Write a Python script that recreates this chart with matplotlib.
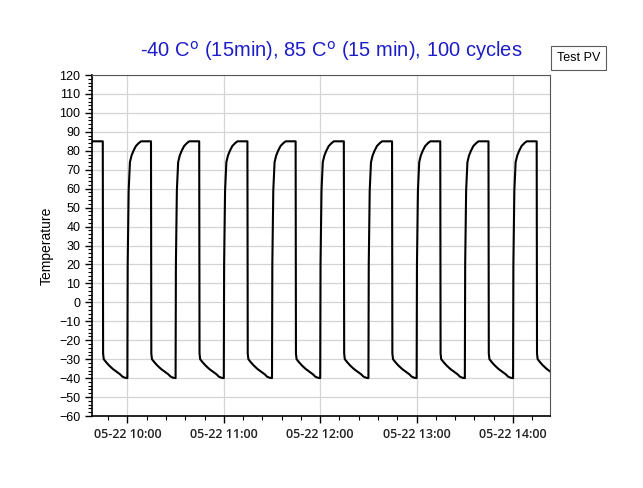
import matplotlib
matplotlib.use('Agg')
import matplotlib.pyplot as plt
import matplotlib.dates as mdates
from matplotlib.ticker import MultipleLocator
import numpy as np
import pandas as pd

# one thermal cycle: minutes after the rise, temperature
cycle_min = [0, 0.2, 0.8, 1.6, 2.6, 3.8, 5.3, 7.0, 8.5, 14.7, 14.9, 15.3,
             17.0, 18.6, 21.0, 23.8, 25.5, 26.9, 28.5, 30.0]
cycle_temp = [-40, 20, 59, 74, 77.5, 80, 82.5, 84, 85, 85, -27, -30,
              -31.8, -33.3, -35.2, -36.9, -38, -39.2, -39.8, -40]
# start time of each cycle (rise from -40 to 85)
cycle_starts = ['2015-05-22 09:30', '2015-05-22 10:00', '2015-05-22 10:30',
                '2015-05-22 11:00', '2015-05-22 11:30', '2015-05-22 12:00',
                '2015-05-22 12:30', '2015-05-22 13:00', '2015-05-22 13:30',
                '2015-05-22 14:00']

times, temps = [], []
for s in cycle_starts:
    t0 = pd.Timestamp(s)
    for m, v in zip(cycle_min, cycle_temp):
        times.append(t0 + pd.Timedelta(minutes=m))
        temps.append(v)

fig = plt.figure(figsize=(6.43, 4.88), dpi=100)
ax = fig.add_axes([0.1431, 0.1475, 0.8554 - 0.1431, 0.8463 - 0.1475])

ax.plot(times, temps, color='black', lw=1.5, label='Test PV')

ax.set_xlim(pd.Timestamp('2015-05-22 09:38'), pd.Timestamp('2015-05-22 14:23'))
ax.set_ylim(-60, 120)
ax.yaxis.set_major_locator(MultipleLocator(10))
ax.yaxis.set_minor_locator(MultipleLocator(2))
ax.xaxis.set_major_locator(mdates.HourLocator())
ax.xaxis.set_minor_locator(mdates.MinuteLocator(byminute=[0, 12, 24, 36, 48]))
ax.xaxis.set_major_formatter(mdates.DateFormatter('%m-%d %H:%M'))

ax.grid(True, which='major', color='#d4d4d4', lw=0.9)
ax.set_axisbelow(True)
for side in ['top', 'right']:
    ax.spines[side].set_color('#555555')
for side in ['left', 'bottom']:
    ax.spines[side].set_color('black')
    ax.spines[side].set_linewidth(1.2)

ax.tick_params(axis='both', which='major', direction='out', length=5, width=1)
ax.tick_params(axis='both', which='minor', direction='out', length=3, width=0.8)
ax.tick_params(axis='y', labelsize=9)
for lab in ax.get_yticklabels():
    lab.set_fontfamily('Liberation Sans')
for lab in ax.get_xticklabels():
    lab.set_fontfamily('Open Sans')
    lab.set_fontweight('semibold')
    lab.set_fontsize(9)
    lab.set_color('#222222')

ax.set_ylabel('Temperature', fontsize=10, family='Liberation Sans', labelpad=4)

fig.text(0.515, 0.896, r'-40 C$^{\rm o}$ (15min), 85 C$^{\rm o}$ (15 min), 100 cycles',
         ha='center', va='center', fontsize=14.5, color='#1c1cc8',
         family='Liberation Sans')

leg = fig.legend(loc='center', bbox_to_anchor=(0.9, 0.881), handlelength=0,
                 handletextpad=0, fontsize=9, frameon=True, fancybox=False,
                 borderpad=0.45)
for h in leg.legend_handles:
    h.set_visible(False)
leg.get_frame().set_edgecolor('#333333')
leg.get_frame().set_linewidth(0.8)
for t in leg.get_texts():
    t.set_fontfamily('Liberation Sans')

fig.savefig('out.png', dpi=100)
